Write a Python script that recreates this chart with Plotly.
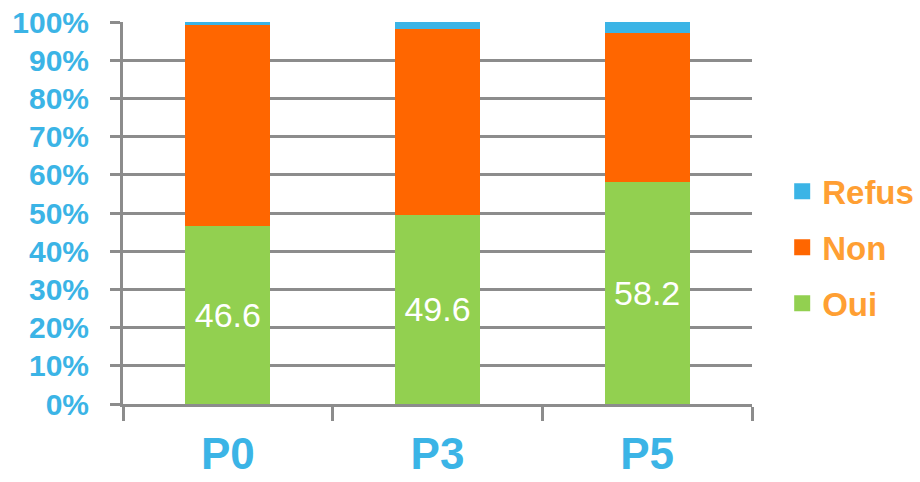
import plotly.graph_objects as go

categories = ["P0", "P3", "P5"]
oui = [46.6, 49.6, 58.2]
non = [52.6, 48.6, 39.0]
refus = [0.8, 1.8, 2.8]
legend_names = ["Refus", "Non", "Oui"]
y_ticks = [0, 10, 20, 30, 40, 50, 60, 70, 80, 90, 100]
y_tick_labels = ["0%", "10%", "20%", "30%", "40%", "50%", "60%", "70%", "80%", "90%", "100%"]

GREEN = "#92D050"
ORANGE = "#FF6600"
BLUE = "#3BB4E6"
LEG_TXT = "#FF9F33"
GRID = "#8C8C8C"
FONT = "Liberation Sans, Arial, sans-serif"

fig = go.Figure()
fig.add_trace(go.Bar(x=categories, y=oui, name="Oui", marker=dict(color=GREEN, line=dict(width=0)),
                     text=oui, texttemplate="%{text:.1f}", textposition="inside",
                     insidetextanchor="middle",
                     textfont=dict(color="white", size=34, family=FONT),
                     showlegend=False))
fig.add_trace(go.Bar(x=categories, y=non, name="Non", marker=dict(color=ORANGE, line=dict(width=0)),
                     showlegend=False))
fig.add_trace(go.Bar(x=categories, y=refus, name="Refus", marker=dict(color=BLUE, line=dict(width=0)),
                     showlegend=False))

# legend entries (square symbols), top to bottom
for name, col in zip(legend_names, [BLUE, ORANGE, GREEN]):
    fig.add_trace(go.Scatter(x=[None], y=[None], mode="markers", name=name,
                             legendgroup=name,
                             marker=dict(symbol="square", size=16, color=col)))

fig.update_layout(
    width=920, height=482,
    margin=dict(l=123, r=168, t=22, b=78, autoexpand=False),
    paper_bgcolor="white", plot_bgcolor="white",
    barmode="stack", bargap=0.595,
    font=dict(family=FONT),
    legend=dict(x=1.048, xanchor="left", y=0.41, yanchor="middle",
                traceorder="grouped", tracegroupgap=10,
                font=dict(size=33, color=LEG_TXT, family=FONT, weight="bold"),
                bgcolor="rgba(0,0,0,0)"),
)
fig.update_xaxes(type="category", showline=True, linecolor=GRID, linewidth=3, automargin=False,
                 ticks="outside", tickson="boundaries", ticklen=14, tickwidth=3, tickcolor=GRID,
                 showgrid=False, ticklabelstandoff=9,
                 tickfont=dict(size=44, color=BLUE, family=FONT, weight="bold"))
fig.update_yaxes(range=[0, 100], tickvals=y_ticks, ticktext=y_tick_labels,
                 showline=True, linecolor=GRID, linewidth=3, automargin=False,
                 showgrid=True, gridcolor=GRID, gridwidth=3, zeroline=False,
                 ticks="outside", ticklen=10, tickwidth=3, tickcolor=GRID,
                 ticklabelstandoff=15,
                 tickfont=dict(size=30, color=BLUE, family=FONT, weight="bold"))

fig.write_html("out.html")
